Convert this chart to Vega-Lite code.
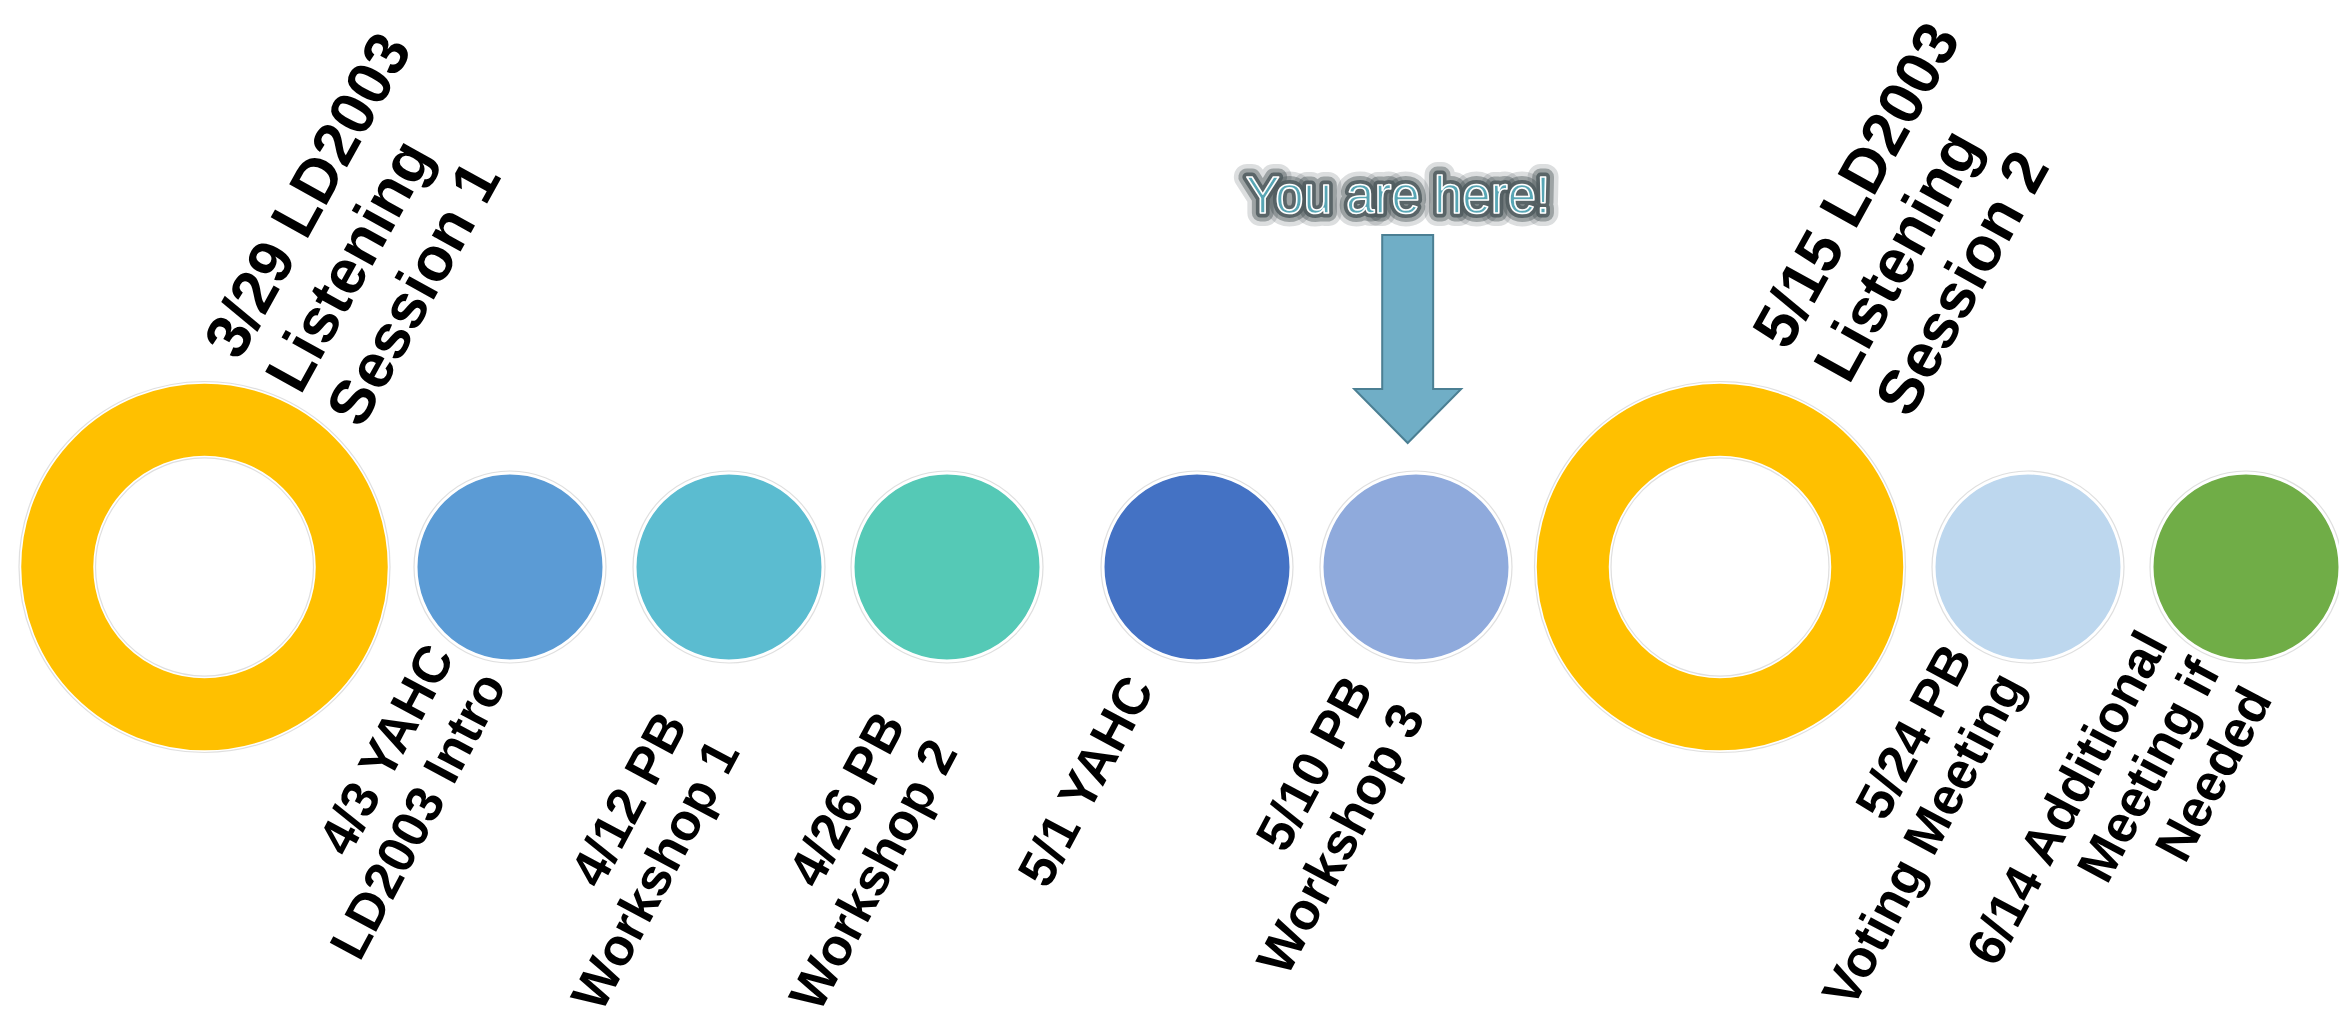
{
  "$schema": "https://vega.github.io/schema/vega-lite/v6.json",
  "width": 2339,
  "height": 1019,
  "autosize": {"type": "none"},
  "padding": 0,
  "background": "white",
  "config": {"view": {"stroke": null}},
  "data": {
    "values": [
      {"date": "2024-03-29", "dayOfYear": 89, "event": "LD2003 Listening Session 1", "kind": "session", "label": ["3/29 LD2003", "Listening", "Session 1"], "current": false},
      {"date": "2024-04-03", "dayOfYear": 94, "event": "YAHC LD2003 Intro", "kind": "meeting", "label": ["4/3 YAHC", "LD2003 Intro"], "current": false},
      {"date": "2024-04-12", "dayOfYear": 103, "event": "PB Workshop 1", "kind": "meeting", "label": ["4/12 PB", "Workshop 1"], "current": false},
      {"date": "2024-04-26", "dayOfYear": 117, "event": "PB Workshop 2", "kind": "meeting", "label": ["4/26 PB", "Workshop 2"], "current": false},
      {"date": "2024-05-01", "dayOfYear": 122, "event": "YAHC", "kind": "meeting", "label": ["5/1 YAHC"], "current": false},
      {"date": "2024-05-10", "dayOfYear": 131, "event": "PB Workshop 3", "kind": "meeting", "label": ["5/10 PB", "Workshop 3"], "current": true},
      {"date": "2024-05-15", "dayOfYear": 136, "event": "LD2003 Listening Session 2", "kind": "session", "label": ["5/15 LD2003", "Listening", "Session 2"], "current": false},
      {"date": "2024-05-24", "dayOfYear": 145, "event": "PB Voting Meeting", "kind": "meeting", "label": ["5/24 PB", "Voting Meeting"], "current": false},
      {"date": "2024-06-14", "dayOfYear": 166, "event": "Additional Meeting if Needed", "kind": "meeting", "label": ["6/14 Additional", "Meeting if", "Needed"], "current": false}
    ]
  },
  "encoding": {
    "x": {
      "field": "dayOfYear",
      "type": "quantitative",
      "scale": {
        "type": "linear",
        "domain": [89, 94, 103, 117, 122, 131, 136, 145, 166],
        "range": [204.5, 510, 729, 947, 1197, 1416, 1720, 2028, 2246],
        "nice": false,
        "zero": false
      },
      "axis": null
    },
    "y": {"datum": 0, "type": "quantitative", "scale": {"domain": [-452, 567], "nice": false, "zero": false}, "axis": null}
  },
  "layer": [
    {
      "transform": [{"filter": "datum.kind !== 'session'"}],
      "mark": {"type": "point", "shape": "circle", "filled": false, "stroke": "#d2d2d2", "strokeWidth": 1.2, "size": 36864}
    },
    {
      "transform": [{"filter": "datum.kind !== 'session'"}],
      "mark": {"type": "point", "shape": "circle", "filled": true, "opacity": 1, "stroke": "white", "strokeWidth": 2, "size": 34969},
      "encoding": {
        "color": {
          "field": "event",
          "type": "nominal",
          "legend": null,
          "scale": {
            "domain": ["YAHC LD2003 Intro", "PB Workshop 1", "PB Workshop 2", "YAHC", "PB Workshop 3", "PB Voting Meeting", "Additional Meeting if Needed"],
            "range": ["#5B9BD5", "#5BBCD0", "#55C9B6", "#4472C4", "#8FAADC", "#BDD7EE", "#70AD47"]
          }
        }
      }
    },
    {
      "transform": [{"filter": "datum.kind === 'session'"}],
      "mark": {"type": "point", "shape": "circle", "filled": false, "stroke": "#d2d2d2", "strokeWidth": 1.2, "size": 137641}
    },
    {
      "transform": [{"filter": "datum.kind === 'session'"}],
      "mark": {"type": "point", "shape": "circle", "filled": false, "stroke": "#d2d2d2", "strokeWidth": 1.2, "size": 47524}
    },
    {
      "transform": [{"filter": "datum.kind === 'session'"}],
      "mark": {"type": "point", "shape": "circle", "filled": false, "opacity": 1, "stroke": "#FFC000", "strokeOpacity": 1, "strokeWidth": 72, "size": 86730}
    },
    {
      "transform": [{"filter": "datum.event === 'YAHC LD2003 Intro' || datum.event === 'PB Voting Meeting'"}],
      "mark": {"type": "text", "font": "Liberation Sans", "fontWeight": "bold", "fontSize": 52, "lineHeight": 59, "angle": 298, "align": "right", "baseline": "alphabetic", "dx": -105, "dy": -6, "color": "black"},
      "encoding": {"text": {"field": "label", "type": "nominal"}}
    },
    {
      "transform": [{"filter": "datum.event === 'PB Workshop 1' || datum.event === 'PB Workshop 2'"}],
      "mark": {"type": "text", "font": "Liberation Sans", "fontWeight": "bold", "fontSize": 52, "lineHeight": 59, "angle": 298, "align": "right", "baseline": "alphabetic", "dx": -158, "dy": 38, "color": "black"},
      "encoding": {"text": {"field": "label", "type": "nominal"}}
    },
    {
      "transform": [{"filter": "datum.event === 'YAHC' || datum.event === 'PB Workshop 3'"}],
      "mark": {"type": "text", "font": "Liberation Sans", "fontWeight": "bold", "fontSize": 52, "lineHeight": 59, "angle": 298, "align": "right", "baseline": "alphabetic", "dx": -127, "dy": 20, "color": "black"},
      "encoding": {"text": {"field": "label", "type": "nominal"}}
    },
    {
      "transform": [{"filter": "datum.event === 'Additional Meeting if Needed'"}],
      "mark": {"type": "text", "font": "Liberation Sans", "fontWeight": "bold", "fontSize": 52, "lineHeight": 59, "angle": 298, "align": "right", "baseline": "alphabetic", "dx": -104, "dy": -32, "color": "black"},
      "encoding": {"text": {"field": "label", "type": "nominal"}}
    },
    {
      "transform": [{"filter": "datum.event === 'LD2003 Listening Session 1'"}],
      "mark": {"type": "text", "font": "Liberation Sans", "fontWeight": "bold", "fontSize": 62, "lineHeight": 70, "angle": 299, "align": "left", "baseline": "alphabetic", "dx": 196, "dy": -69, "color": "black"},
      "encoding": {"text": {"field": "label", "type": "nominal"}}
    },
    {
      "transform": [{"filter": "datum.event === 'LD2003 Listening Session 2'"}],
      "mark": {"type": "text", "font": "Liberation Sans", "fontWeight": "bold", "fontSize": 62, "lineHeight": 70, "angle": 299, "align": "left", "baseline": "alphabetic", "dx": 221, "dy": -45, "color": "black"},
      "encoding": {"text": {"field": "label", "type": "nominal"}}
    },
    {
      "transform": [{"filter": "datum.current"}],
      "mark": {"type": "point", "shape": "M-0.325,-1L0.165,-1L0.165,0.48L0.434,0.48L-0.08,1L-0.594,0.48L-0.325,0.48Z", "filled": true, "fill": "#70AEC6", "stroke": "#4B7F93", "strokeWidth": 2, "opacity": 1, "size": 43264},
      "encoding": {"y": {"datum": 228, "type": "quantitative"}}
    },
    {
      "transform": [{"filter": "datum.current"}],
      "mark": {"type": "text", "text": "You are here!", "font": "Liberation Sans", "fontSize": 51, "align": "center", "baseline": "alphabetic", "dx": -18, "fill": "#4f5a5e", "stroke": "#4f5a5e", "strokeWidth": 26, "strokeOpacity": 0.2, "strokeJoin": "round", "opacity": 1},
      "encoding": {"y": {"datum": 354, "type": "quantitative"}}
    },
    {
      "transform": [{"filter": "datum.current"}],
      "mark": {"type": "text", "text": "You are here!", "font": "Liberation Sans", "fontSize": 51, "align": "center", "baseline": "alphabetic", "dx": -18, "fill": "#4f5a5e", "stroke": "#4f5a5e", "strokeWidth": 17, "strokeOpacity": 0.45, "strokeJoin": "round", "opacity": 1},
      "encoding": {"y": {"datum": 354, "type": "quantitative"}}
    },
    {
      "transform": [{"filter": "datum.current"}],
      "mark": {"type": "text", "text": "You are here!", "font": "Liberation Sans", "fontSize": 51, "align": "center", "baseline": "alphabetic", "dx": -18, "fill": "#4f5a5e", "stroke": "#4f5a5e", "strokeWidth": 9, "strokeOpacity": 0.85, "strokeJoin": "round", "opacity": 1},
      "encoding": {"y": {"datum": 354, "type": "quantitative"}}
    },
    {
      "transform": [{"filter": "datum.current"}],
      "mark": {"type": "text", "text": "You are here!", "font": "Liberation Sans", "fontSize": 51, "align": "center", "baseline": "alphabetic", "dx": -18, "fill": "#58A6B5", "stroke": "white", "strokeWidth": 1.6, "strokeJoin": "round", "opacity": 1},
      "encoding": {"y": {"datum": 354, "type": "quantitative"}}
    }
  ]
}
